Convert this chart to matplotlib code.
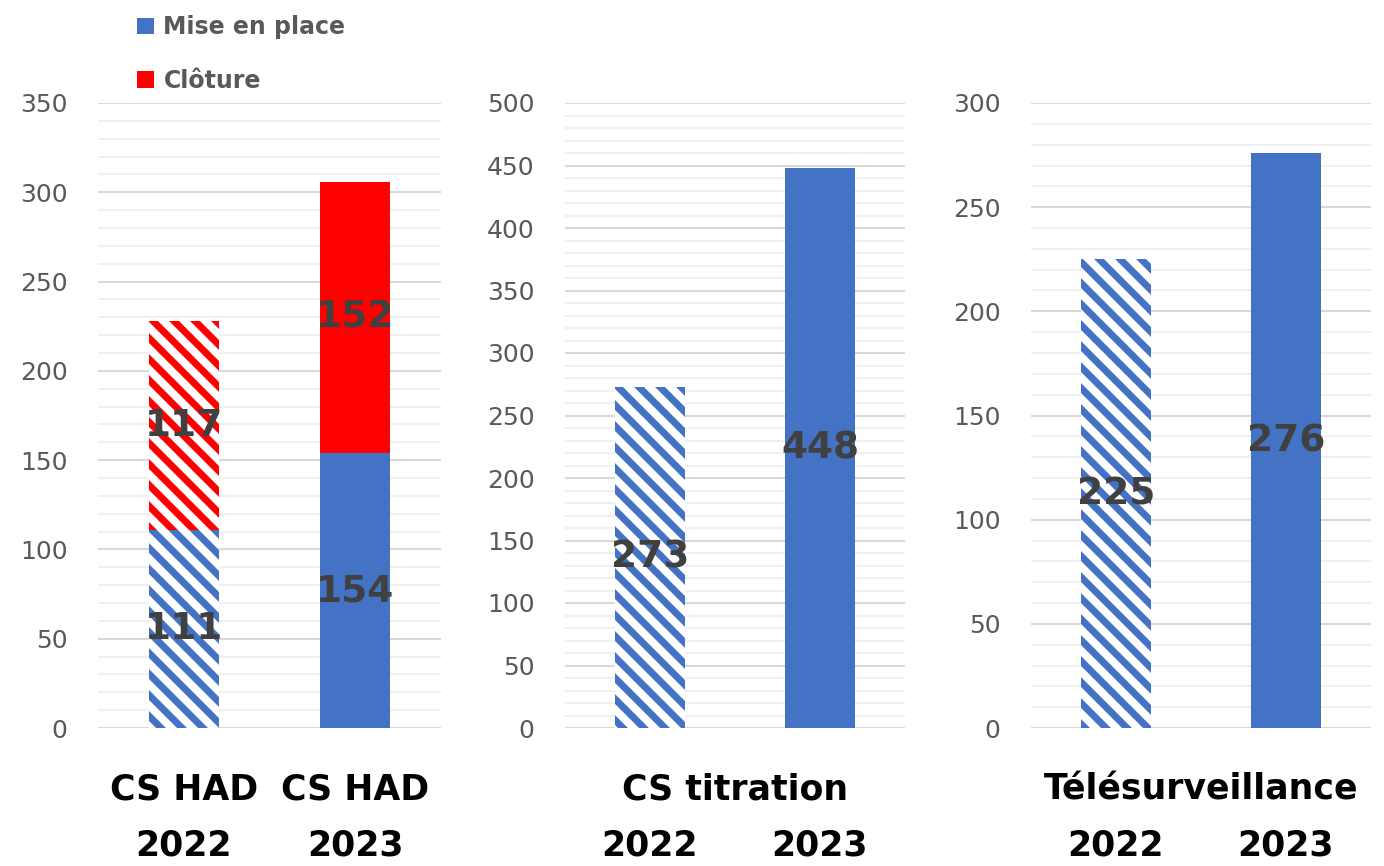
import matplotlib
matplotlib.use("Agg")
import matplotlib.pyplot as plt
from matplotlib.ticker import MultipleLocator

# data
years = ["2022", "2023"]
had_groups = ["CS HAD", "CS HAD"]
had_mise_en_place = [111, 154]
had_cloture = [117, 152]
titration_values = [273, 448]
telesurv_values = [225, 276]
panel_titles = ["", "CS titration", "Télésurveillance"]
y_max = [350, 500, 300]

BLUE = "#4472C4"
RED = "#FF0000"
LABEL_GREY = "#404040"
TICK_GREY = "#595959"

# dpi chosen so the hatch stripes get the same spacing as the original
DPI = 126
S = 100 / DPI  # sizes below are written for a 100 dpi canvas

plt.rcParams["hatch.linewidth"] = 4.0
plt.rcParams["font.family"] = ["DejaVu Sans"]

fig = plt.figure(figsize=(1384 / DPI, 866 / DPI), dpi=DPI)

lefts = [98 / 1384, 565 / 1384, 1031 / 1384]
widths = [343 / 1384, 340 / 1384, 340 / 1384]
bottom = 1 - 728 / 866
height = (728 - 103) / 866

axes = [fig.add_axes([l, bottom, w, height]) for l, w in zip(lefts, widths)]

x = [0, 1]
bw = 0.41


def bar_pair(ax, values, base, color):
    # 2022 bar hatched, 2023 bar solid
    ax.bar(x[0], values[0], bw, bottom=base[0], facecolor="white",
           edgecolor=color, hatch="\\\\", linewidth=0, zorder=3)
    b1 = ax.bar(x[1], values[1], bw, bottom=base[1], color=color,
                linewidth=0, zorder=3)
    for xi, v, b in zip(x, values, base):
        ax.text(xi, b + v / 2, str(v), ha="center", va="center",
                fontsize=27 * S, fontweight="bold", color=LABEL_GREY, zorder=4)
    return b1


# panel 1: stacked
ax = axes[0]
h_mise = bar_pair(ax, had_mise_en_place, [0, 0], BLUE)
h_clot = bar_pair(ax, had_cloture, had_mise_en_place, RED)

# panels 2 and 3
bar_pair(axes[1], titration_values, [0, 0], BLUE)
bar_pair(axes[2], telesurv_values, [0, 0], BLUE)

for i, ax in enumerate(axes):
    ax.set_xlim(-0.5, 1.5)
    ax.set_ylim(0, y_max[i])
    ax.yaxis.set_major_locator(MultipleLocator(50))
    ax.yaxis.set_minor_locator(MultipleLocator(10))
    ax.grid(which="major", axis="y", color="#d9d9d9", linewidth=1.5 * S, zorder=0)
    ax.grid(which="minor", axis="y", color="#f0f0f0", linewidth=1.5 * S, zorder=0)
    for s in ax.spines.values():
        s.set_visible(False)
    ax.tick_params(axis="y", which="both", length=0, pad=22 * S,
                   labelsize=18 * S, labelcolor=TICK_GREY)
    ax.tick_params(axis="x", length=0, pad=0)
    ax.set_xticks(x)
    ax.set_xticklabels([])
    # year labels on second line
    for xi, yr in zip(x, years):
        ax.text(xi, -117 / 625, yr, transform=ax.get_xaxis_transform(),
                ha="center", va="center", fontsize=25 * S, fontweight="bold",
                color="black")
    if panel_titles[i]:
        ax.text(0.5, -62 / 625, panel_titles[i], transform=ax.transAxes,
                ha="center", va="center", fontsize=25 * S, fontweight="bold",
                color="black")

for xi, g in zip(x, had_groups):
    axes[0].text(xi, -62 / 625, g, transform=axes[0].get_xaxis_transform(),
                 ha="center", va="center", fontsize=25 * S, fontweight="bold",
                 color="black")

leg = fig.legend([h_mise, h_clot], ["Mise en place", "Clôture"],
                 loc="upper left", bbox_to_anchor=(128 / 1384, 1 - 6 / 866),
                 borderaxespad=0, frameon=False, handlelength=0.7,
                 handleheight=0.7, handletextpad=0.4, labelspacing=1.25,
                 prop={"size": 17 * S, "weight": "bold"})
for t in leg.get_texts():
    t.set_color(TICK_GREY)

fig.savefig("out.png", dpi=DPI)
